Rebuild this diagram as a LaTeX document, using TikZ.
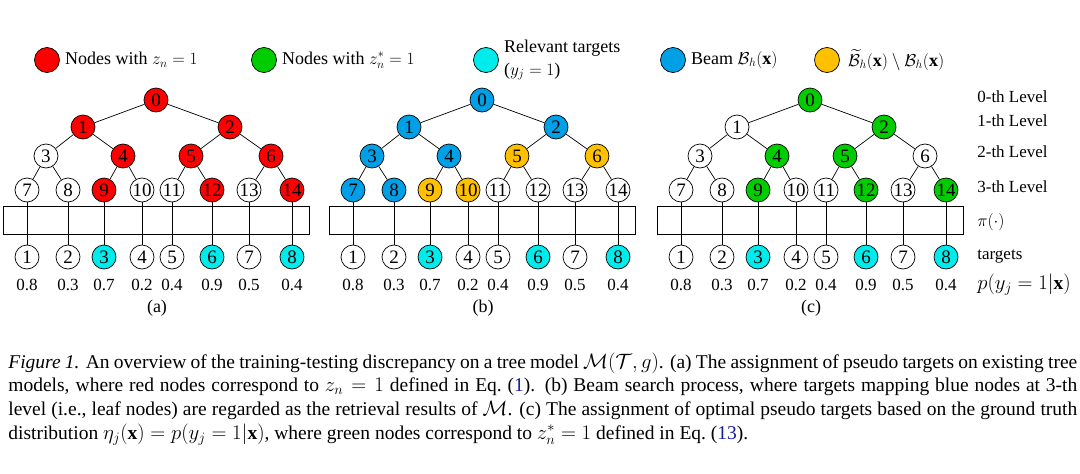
\documentclass[tikz,border=0pt]{standalone}
\usepackage{amsmath,amssymb}
\usepackage{fontspec}
\setmainfont{Liberation Serif}
\usetikzlibrary{positioning}
\definecolor{zred}{RGB}{255,0,0}
\definecolor{zgreen}{RGB}{0,204,0}
\definecolor{zblue}{RGB}{0,160,230}
\definecolor{zgold}{RGB}{255,192,0}
\definecolor{zcyan}{RGB}{0,235,235}
\definecolor{linkblue}{RGB}{20,30,150}

\begin{document}
\begin{tikzpicture}[x=1pt, y=-1pt, line width=0.7pt,
    tn/.style={circle, draw, fill=white, inner sep=0pt, minimum size=24pt,
      font=\fontsize{19}{19}\selectfont},
    key/.style={circle, draw, inner sep=0pt, minimum size=25pt},
    txt/.style={font=\fontsize{17}{23}\selectfont, inner sep=0pt},
    leg/.style={font=\fontsize{18}{23}\selectfont, inner sep=0pt},
    zn/.style={fill=zred}, zopt/.style={fill=zgreen},
    beam/.style={fill=zblue}, cand/.style={fill=zgold}, relevant/.style={fill=zcyan},
    red in/.style={a#1/.style=zn}, red in/.list={0,1,2,4,5,6,9,12,14},
    blue in/.style={b#1/.style=beam}, blue in/.list={0,1,2,3,4,7,8},
    gold in/.style={b#1/.style=cand}, gold in/.list={5,6,9,10},
    green in/.style={c#1/.style=zopt}, green in/.list={0,2,4,5,9,12,14},
    cyan in/.style={t#1/.style=relevant}, cyan in/.list={3,6,8}]
\useasboundingbox (0,0) rectangle (1080,474);

% legend
\node[key, zn] (kred) at (47,60) {};
\node[leg, right=5pt of kred] (lred) {Nodes with $z_n = 1$};
\node[key, zopt] (kgreen) at (264,60) {};
\node[leg, right=5pt of kgreen] (lgreen) {Nodes with $z^*_n = 1$};
\node[key, relevant] (kcyan) at (486,60) {};
\node[leg, right=5pt of kcyan, align=left] (lcyan) {Relevant targets\\($y_j = 1$)};
\node[key, beam] (kblue) at (673,60) {};
\node[leg, right=5pt of kblue] (lblue) {Beam $\mathcal{B}_h(\mathbf{x})$};
\node[key, cand] (kgold) at (827,60) {};
\node[leg, right=8pt of kgold] (lgold)
  {$\widetilde{\mathcal{B}}_h(\mathbf{x}) \setminus \mathcal{B}_h(\mathbf{x})$};

% three trees
\foreach \p/\dx in {a/0, b/326, c/654} {
  \foreach \n/\x/\y in {0/156/100, 1/83/127, 2/230/127, 3/46/156, 4/123/156,
      5/191/156, 6/271/156, 7/27/190, 8/68/190, 9/104/190, 10/142/190,
      11/172/190, 12/212/190, 13/249/190, 14/292/190}
    \node[tn, \p\n/.try] (\p\n) at (\x+\dx,\y) {\n};
  \foreach \n [evaluate=\n as \m using {int((\n-1)/2)}] in {1,...,14}
    \draw (\p\m) -- (\p\n);
  \node[draw, inner sep=0pt, minimum width=306pt, minimum height=28pt]
    (\p box) at (156+\dx,220) {};
  \foreach \j/\x/\v [evaluate=\j as \k using {int(\j+6)}] in {1/27/0.8,
      2/68/0.3, 3/104/0.7, 4/142/0.2, 5/172/0.4, 6/212/0.9, 7/249/0.5, 8/292/0.4} {
    \node[tn, t\j/.try] (\p t\j) at (\x+\dx,257) {\j};
    \draw (\p\k) -- (\p t\j);
    \node[txt] (\p v\j) at (\x+\dx,285) {\v};
  }
  \node[leg] (\p lab) at (157+\dx,308) {(\p)};
}

% level names
\node[txt, anchor=west] (lv0) at (977,97) {0-th Level};
\node[txt, anchor=west] (lv1) at (977,121) {1-th Level};
\node[txt, anchor=west] (lv2) at (977,152) {2-th Level};
\node[txt, anchor=west] (lv3) at (977,187) {3-th Level};
\node[leg, anchor=west] (lpi) at (977,222) {$\pi(\cdot)$};
\node[txt, anchor=west] (ltg) at (977,257) {targets};
\node[leg, anchor=west, font=\fontsize{19.5}{23}\selectfont] (lpy) at (977,285)
  {$p(y_j = 1|\mathbf{x})$};

% caption
\node[inner sep=0pt, anchor=base west, text width=1069pt, align=justify,
    font=\fontsize{19.5}{23.7}\selectfont] (cap) at (8,368)
  {\textit{Figure 1.} An overview of the training-testing discrepancy on a tree
   model $\mathcal{M}(\mathcal{T}, g)$. (a) The assignment of pseudo targets on
   existing tree\linebreak models, where red nodes correspond to $z_n = 1$ defined
   in Eq.~({\color{linkblue}1}). (b) Beam search process, where targets mapping
   blue nodes at 3-th\linebreak level (i.e., leaf nodes) are regarded as the
   retrieval results of $\mathcal{M}$. (c) The assignment of optimal pseudo
   targets based on the ground truth\linebreak distribution
   $\eta_j(\mathbf{x}) = p(y_j = 1|\mathbf{x})$, where green nodes correspond to
   $z^*_n = 1$ defined in Eq.~({\color{linkblue}13}).};
\end{tikzpicture}
\end{document}
